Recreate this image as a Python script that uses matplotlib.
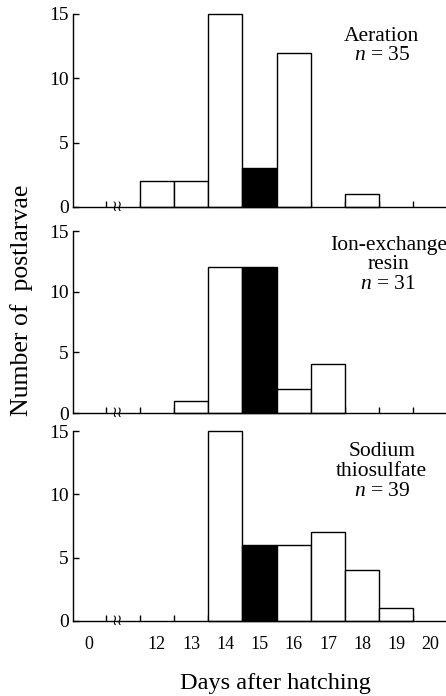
import numpy as np
import matplotlib.pyplot as plt

plt.rcParams['font.family'] = ['Liberation Serif', 'DejaVu Serif']
plt.rcParams['mathtext.fontset'] = 'custom'
plt.rcParams['mathtext.rm'] = 'Liberation Serif'
plt.rcParams['mathtext.it'] = 'Liberation Serif:italic'

# Données
day_labels = ['0', '12', '13', '14', '15', '16', '17', '18', '19', '20']
day_pos = [0, 2, 3, 4, 5, 6, 7, 8, 9, 10]
bar_days = [12, 13, 14, 15, 16, 17, 18, 19, 20]
aeration = [2, 2, 15, 3, 12, 0, 1, 0, 0]
ion_exchange = [0, 1, 12, 12, 2, 4, 0, 0, 0]
sodium = [0, 0, 15, 6, 6, 7, 4, 1, 0]
black_day = 15

panels = [
    (aeration, 'Aeration\n$n$ = 35', 0.828, 0.935),
    (ion_exchange, 'Ion-exchange\nresin\n$n$ = 31', 0.845, 0.975),
    (sodium, 'Sodium\nthiosulfate\n$n$ = 39', 0.828, 0.94),
]
# [left, bottom, width, height] pour chaque panneau
boxes = [
    [0.1637, 0.7026, 0.8363, 0.2773],
    [0.1637, 0.4066, 0.8363, 0.2615],
    [0.1637, 0.1078, 0.8363, 0.2729],
]

fig = plt.figure(figsize=(4.46, 6.96), dpi=100)

for k, ((counts, label, tx, ty), box) in enumerate(zip(panels, boxes)):
    ax = fig.add_axes(box)
    x = np.array(bar_days) - 10
    for xi, d, c in zip(x, bar_days, counts):
        if c == 0:
            continue
        fc = 'black' if d == black_day else 'white'
        ax.bar(xi, c, width=1.0, color=fc, edgecolor='black', linewidth=1.0,
               clip_on=False, zorder=2)

    ax.set_xlim(-0.45, 10.45)
    ax.set_ylim(0, 15)
    ax.spines['top'].set_visible(False)
    ax.spines['right'].set_visible(False)
    ax.spines['left'].set_linewidth(1.0)
    ax.spines['bottom'].set_linewidth(1.0)

    ax.set_yticks([0, 5, 10, 15])
    ax.tick_params(axis='y', direction='in', length=4, width=1.0,
                   labelsize=14, pad=3)
    ax.set_xticks(np.arange(0.5, 10, 1.0))
    ax.set_xticklabels([])
    ax.tick_params(axis='x', which='major', direction='in', length=4, width=1.0)
    ax.set_xticks(day_pos, minor=True)
    if k == 2:
        ax.set_xticklabels(day_labels, minor=True)
    else:
        ax.set_xticklabels([], minor=True)
    ax.tick_params(axis='x', which='minor', length=0, labelsize=13, pad=11)

    # coupure de l'axe
    ax.text(0.83, 0.05, '\u2240\u2240', family='DejaVu Sans', fontsize=11,
            ha='center', va='center', transform=ax.transData, zorder=3)

    ax.text(tx, ty, label, transform=ax.transAxes, ha='center', va='top',
            fontsize=15.5, linespacing=1.05, multialignment='center')

fig.text(0.048, 0.569, 'Number of  postlarvae', rotation=90, ha='center',
         va='center', fontsize=18.5)
fig.text(0.617, 0.018, 'Days after hatching', ha='center', va='center',
         fontsize=17.5)

fig.savefig('out.png', dpi=100)
